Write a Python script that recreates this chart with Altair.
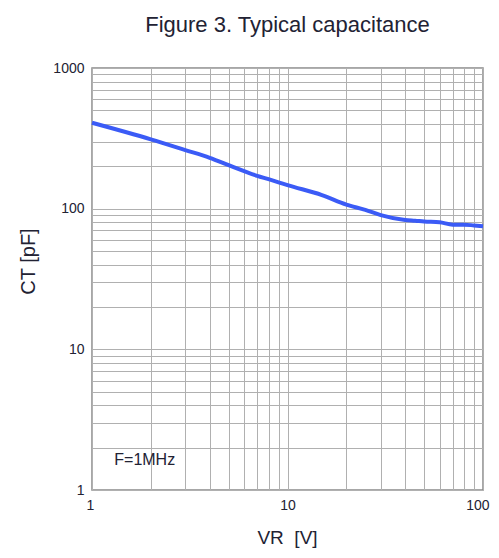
import altair as alt
import pandas as pd

# Curve (VR in V, CT in pF)
vr = [1, 2, 3, 4, 5, 6, 7, 8, 9, 10, 15, 20, 25, 30, 40, 45, 50, 60, 70, 80, 90, 100]
ct = [408, 311, 261, 230, 204, 185, 171, 162, 154, 147, 125, 107, 98, 90, 83, 82, 81, 80, 77, 77, 76, 75]

x_ticks = [1, 2, 3, 4, 5, 6, 7, 8, 9, 10, 20, 30, 40, 50, 60, 70, 80, 90, 100]
y_ticks = [1, 2, 3, 4, 5, 6, 7, 8, 9, 10, 20, 30, 40, 50, 60, 70, 80, 90,
           100, 200, 300, 400, 500, 600, 700, 800, 900, 1000]

chart_title = ["Figure 3. Typical capacitance"]

note_text = ["F=1MHz"]
note_x = [1.3]
note_y = [1.63]

df = pd.DataFrame({"vr": vr, "ct": ct})
note_df = pd.DataFrame({"t": note_text, "x": note_x, "y": note_y})
title_df = pd.DataFrame({"t": chart_title})

FONT = "Liberation Sans"
LABEL_COLOR = "#222233"
W, H = 391, 422

xscale = alt.Scale(type="log", domain=[1, 100], nice=False)
yscale = alt.Scale(type="log", domain=[1, 1000], nice=False)

xaxis = alt.Axis(
    values=x_ticks,
    labelExpr="(datum.value == 1 || datum.value == 10 || datum.value == 100) ? format(datum.value, 'd') : ''",
    labelOverlap=False,
    labelFlush=True,
    labelFlushOffset=6,
    ticks=False,
    domain=False,
    grid=True,
    gridColor="#b0b0b0",
    gridWidth=1,
    labelFont=FONT,
    labelFontSize=14,
    labelColor=LABEL_COLOR,
    labelPadding=8,
    title="VR\u00a0\u00a0[V]",
    titleFont=FONT,
    titleFontSize=19,
    titleFontWeight="normal",
    titleColor=LABEL_COLOR,
    titleX=195,
    titleY=53,
    titleBaseline="alphabetic",
)

yaxis = alt.Axis(
    values=y_ticks,
    labelExpr="(datum.value == 1 || datum.value == 10 || datum.value == 100 || datum.value == 1000) ? format(datum.value, 'd') : ''",
    labelOverlap=False,
    labelFlush=False,
    ticks=False,
    domain=False,
    grid=True,
    gridColor="#b0b0b0",
    gridWidth=1,
    labelFont=FONT,
    labelFontSize=14,
    labelColor=LABEL_COLOR,
    labelPadding=8,
    title="CT [pF]",
    titleFont=FONT,
    titleFontSize=20,
    titleFontWeight="normal",
    titleColor=LABEL_COLOR,
    titleX=-58,
    titleY=193,
    titleAngle=270,
    titleAlign="center",
    titleBaseline="alphabetic",
)

line = alt.Chart(df).mark_line(color="#3b5bf6", strokeWidth=4, interpolate="monotone").encode(
    x=alt.X("vr:Q", scale=xscale, axis=xaxis),
    y=alt.Y("ct:Q", scale=yscale, axis=yaxis),
)

note = alt.Chart(note_df).mark_text(
    align="left", baseline="middle", font=FONT, fontSize=16, color=LABEL_COLOR
).encode(
    x=alt.X("x:Q", scale=xscale),
    y=alt.Y("y:Q", scale=yscale),
    text="t:N",
)

title_mark = alt.Chart(title_df).mark_text(
    align="center", baseline="alphabetic", font=FONT, fontSize=22, color=LABEL_COLOR
).encode(
    x=alt.value(W / 2),
    y=alt.value(-36),
    text="t:N",
)

chart = (
    alt.layer(line, note, title_mark)
    .properties(
        width=W,
        height=H,
        autosize=alt.AutoSizeParams(type="none"),
        padding={"left": 84, "top": 60, "right": 8, "bottom": 60},
    )
    .configure_view(stroke="#8a8a8a", strokeWidth=1.5)
)

chart.save("out.html", embed_options={"renderer": "svg", "actions": False})
